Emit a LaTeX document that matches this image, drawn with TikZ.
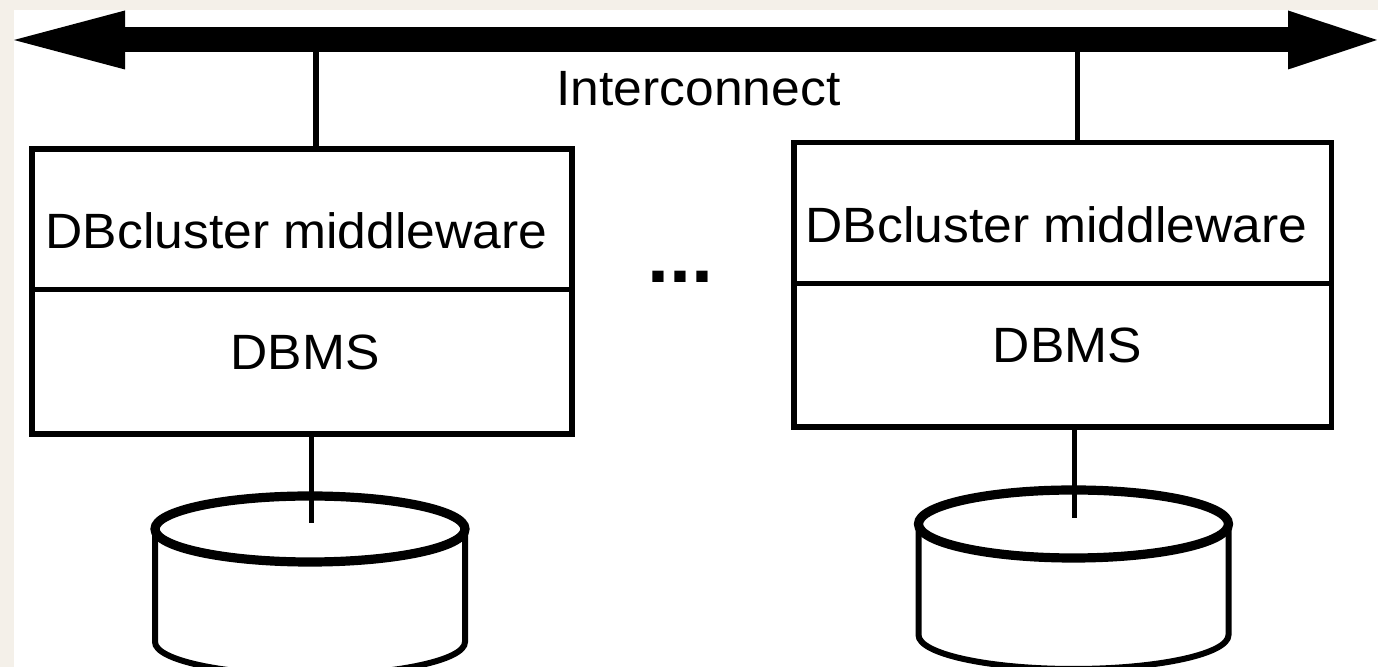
\documentclass[tikz,border=0pt]{standalone}
\usepackage{fontspec}
\setmainfont{Liberation Sans}[FakeStretch=1.04]
\usetikzlibrary{arrows.meta}
\definecolor{paper}{RGB}{244,240,233}

\begin{document}
\begin{tikzpicture}[x=0.5pt, y=-0.5pt,
  every node/.style={inner sep=0pt, outer sep=0pt},
  layerbox/.style={draw, line width=2.7pt, fill=white},
  txt/.style={anchor=base, font=\fontsize{24.8pt}{30pt}\selectfont},
  dots/.style={anchor=base, font=\fontsize{38pt}{40pt}\selectfont\bfseries},
  wire/.style={line width=2.6pt},
  bus/.style={line width=12.5pt, {Triangle[length=55.5pt, width=29.5pt, line width=0pt]}-{Triangle[length=44.5pt, width=29.5pt, line width=0pt]}},
  rim/.style={line width=4.6pt},
  shell/.style={line width=3pt}]

% page: beige edge, white sheet
\fill[paper] (0,0) rectangle (1378,667);
\fill[white] (14,10) rectangle (1378,667);
\useasboundingbox (0,0) rectangle (1378,667);

% node stacks: middleware over DBMS
\node[layerbox, minimum width=270pt, minimum height=70.25pt] (mwL) at (302,219.25) {};
\node[layerbox, minimum width=270pt, minimum height=72.25pt] (dbL) at (302,361.75) {};
\node[layerbox, minimum width=268.75pt, minimum height=70.5pt] (mwR) at (1062.75,213) {};
\node[layerbox, minimum width=268.75pt, minimum height=71.75pt] (dbR) at (1062.75,355.25) {};

\node[txt] (mwLt) at (296.5,249) {DBcluster middleware};
\node[txt] (dbLt) at (305,370) {DBMS};
\node[txt] (mwRt) at (1056.5,243) {DBcluster middleware};
\node[txt] (dbRt) at (1067.5,363) {DBMS};
\node[txt] (ic) at (698.5,106) {Interconnect};
\node[dots] (more) at (680.5,283) {...};

% interconnect bus and taps
\coordinate (busL) at (14,40);
\coordinate (busR) at (1377,40);
\coordinate (tapL) at (316,40);
\coordinate (tapR) at (1077.5,40);
\draw[wire] (tapL) -- (tapL |- mwL.north);
\draw[wire] (tapR) -- (tapR |- mwR.north);
\draw[bus] (busL) -- (busR);

% disks
\draw[shell] (155,529) -- (155,642) arc[start angle=180, end angle=0, x radius=155, y radius=33] -- (465,529);
\draw[rim] (310,529) ellipse[x radius=155, y radius=33];
\coordinate (diskL) at (311.5,523);
\draw[wire] (diskL |- dbL.south) -- (diskL);

\draw[shell] (918.5,524) -- (918.5,635) arc[start angle=180, end angle=0, x radius=155, y radius=34] -- (1228.5,524);
\draw[rim] (1073.5,524) ellipse[x radius=155, y radius=34];
\coordinate (diskR) at (1074.5,518);
\draw[wire] (diskR |- dbR.south) -- (diskR);
\end{tikzpicture}
\end{document}
